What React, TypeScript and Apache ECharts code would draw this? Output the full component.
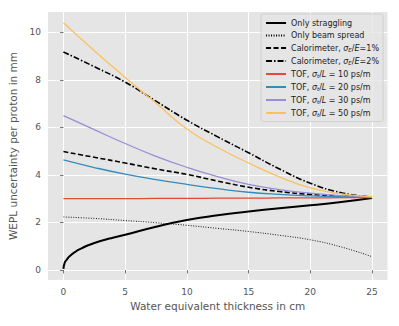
import React, { useEffect, useRef } from "react";
import * as echarts from "echarts";

const XS = [0, 2.5, 5, 7.5, 10, 12.5, 15, 17.5, 20, 22.5, 25];
const STRAG_X = [0, 0.1, 0.25, 0.5, 1, 1.5, 2, 3, 4, 5, 7.5, 10, 12.5, 15, 17.5, 20, 22.5, 25];
const STRAG_Y = [0.05, 0.3, 0.42, 0.58, 0.78, 0.92, 1.04, 1.22, 1.36, 1.48, 1.82, 2.1, 2.3, 2.46, 2.6, 2.72, 2.86, 3.03];
const BEAM = [2.23, 2.17, 2.08, 1.99, 1.88, 1.75, 1.62, 1.46, 1.27, 0.97, 0.56];
const CAL1 = [4.98, 4.74, 4.5, 4.25, 4.02, 3.74, 3.48, 3.3, 3.18, 3.11, 3.07];
const CAL2 = [9.17, 8.55, 7.9, 7.1, 6.3, 5.6, 4.93, 4.25, 3.65, 3.25, 3.07];
const TOF10 = [3.0, 3.0, 3.0, 3.01, 3.01, 3.02, 3.02, 3.03, 3.03, 3.04, 3.05];
const TOF20 = [4.63, 4.31, 4.03, 3.8, 3.6, 3.42, 3.27, 3.18, 3.12, 3.08, 3.06];
const TOF30 = [6.49, 5.9, 5.32, 4.78, 4.32, 3.93, 3.6, 3.38, 3.23, 3.13, 3.07];
const TOF50 = [10.4, 9.22, 8.1, 7.02, 5.93, 5.15, 4.5, 3.92, 3.45, 3.2, 3.08];

const X_TICKS = [0, 5, 10, 15, 20, 25];
const Y_TICKS = [0, 2, 4, 6, 8, 10];

const NAMES = [
  "Only straggling",
  "Only beam spread",
  "Calorimeter, σE/E=1%",
  "Calorimeter, σE/E=2%",
  "TOF, σt/L = 10 ps/m",
  "TOF, σt/L = 20 ps/m",
  "TOF, σt/L = 30 ps/m",
  "TOF, σt/L = 50 ps/m",
];

const RICH_NAMES: Record<string, string> = {
  "Only straggling": "Only straggling",
  "Only beam spread": "Only beam spread",
  "Calorimeter, σE/E=1%": "Calorimeter, {i|σ}{sub|E}/{i|E}=1%",
  "Calorimeter, σE/E=2%": "Calorimeter, {i|σ}{sub|E}/{i|E}=2%",
  "TOF, σt/L = 10 ps/m": "TOF, {i|σ}{sub|t}/{i|L} = 10 ps/m",
  "TOF, σt/L = 20 ps/m": "TOF, {i|σ}{sub|t}/{i|L} = 20 ps/m",
  "TOF, σt/L = 30 ps/m": "TOF, {i|σ}{sub|t}/{i|L} = 30 ps/m",
  "TOF, σt/L = 50 ps/m": "TOF, {i|σ}{sub|t}/{i|L} = 50 ps/m",
};

const pair = (xs: number[], ys: number[]) => xs.map((x, i) => [x, ys[i]]);

export default function App() {
  const ref = useRef<HTMLDivElement>(null);
  useEffect(() => {
    if (!ref.current) return;
    const chart = echarts.init(ref.current, undefined, { renderer: "svg" });
    const font = "DejaVu Sans";
    const mk = (name: string, data: number[][], color: string, width: number, type: any) => ({
      name,
      type: "line",
      data,
      showSymbol: false,
      symbol: "none",
      smooth: 0.5,
      lineStyle: { color, width, type },
      itemStyle: { color },
      z: 2,
    });
    chart.setOption({
      animation: false,
      backgroundColor: "#ffffff",
      textStyle: { fontFamily: font },
      grid: { left: 48, right: 11.5, top: 12, bottom: 46, backgroundColor: "#e5e5e5", show: true, borderWidth: 0, outerBoundsMode: "none" },
      xAxis: {
        type: "value",
        min: -1.25,
        max: 26.25,
        name: "Water equivalent thickness in cm",
        nameLocation: "middle",
        nameGap: 20,
        nameTextStyle: { fontSize: 10.5, color: "#555555", fontFamily: font },
        axisLine: { show: false },
        axisTick: { show: true, length: 3.5, lineStyle: { color: "#555555", width: 0.8 }, customValues: X_TICKS },
        axisLabel: { fontSize: 9, color: "#555555", margin: 7, fontFamily: font, customValues: X_TICKS },
        splitLine: { show: true, lineStyle: { color: "#ffffff", width: 1 } },
      },
      yAxis: {
        type: "value",
        min: -0.42,
        max: 10.85,
        name: "WEPL uncertainty per proton in mm",
        nameLocation: "middle",
        nameGap: 29,
        nameRotate: 90,
        nameTextStyle: { fontSize: 10.5, color: "#555555", fontFamily: font },
        axisLine: { show: false },
        axisTick: { show: true, length: 3.5, lineStyle: { color: "#555555", width: 0.8 }, customValues: Y_TICKS },
        axisLabel: { fontSize: 9, color: "#555555", margin: 7, fontFamily: font, customValues: Y_TICKS },
        splitLine: { show: true, lineStyle: { color: "#ffffff", width: 1 } },
      },
      legend: {
        show: true,
        orient: "vertical",
        right: 16,
        top: 14,
        data: NAMES,
        itemWidth: 20,
        itemHeight: 8,
        itemGap: 4.5,
        padding: [5, 4, 4, 4],
        backgroundColor: "rgba(229,229,229,0.8)",
        borderColor: "#cccccc",
        borderWidth: 0.8,
        borderRadius: 2,
        itemStyle: { opacity: 0 },
        formatter: (n: string) => RICH_NAMES[n] || n,
        textStyle: {
          fontSize: 8,
          color: "#222222",
          fontFamily: font,
          rich: {
            i: { fontSize: 8, fontStyle: "italic", color: "#222222", fontFamily: font },
            sub: { fontSize: 5.5, fontStyle: "italic", color: "#222222", fontFamily: font, verticalAlign: "bottom", padding: [3, 0, 0, 0] },
          },
        },
      },
      series: [
        mk(NAMES[0], pair(STRAG_X, STRAG_Y), "#000000", 2, "solid"),
        mk(NAMES[1], pair(XS, BEAM), "#000000", 0.9, [1, 1.5]),
        mk(NAMES[2], pair(XS, CAL1), "#000000", 1.6, [5, 2.5]),
        mk(NAMES[3], pair(XS, CAL2), "#000000", 1.6, [6, 2, 1.5, 2]),
        mk(NAMES[4], pair(XS, TOF10), "#E24A33", 1.3, "solid"),
        mk(NAMES[5], pair(XS, TOF20), "#348ABD", 1.3, "solid"),
        mk(NAMES[6], pair(XS, TOF30), "#988ED5", 1.3, "solid"),
        mk(NAMES[7], pair(XS, TOF50), "#FBC15E", 1.3, "solid"),
      ],
    });
    return () => chart.dispose();
  }, []);
  return <div ref={ref} style={{ position: "fixed", left: 0, top: 0, width: 399, height: 326 }} />;
}
